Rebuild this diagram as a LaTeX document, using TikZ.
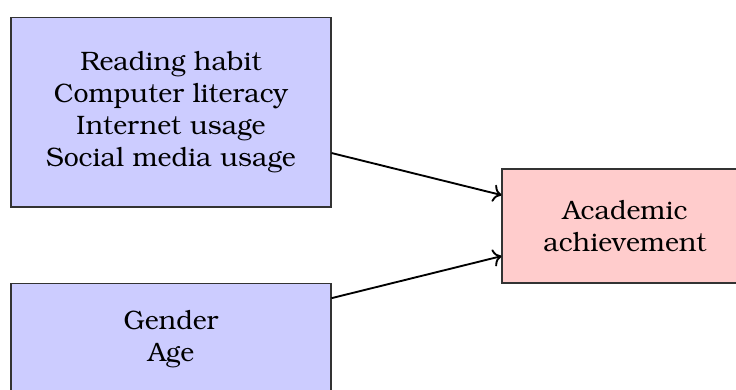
\documentclass[tikz,border=0pt]{standalone}
\usepackage[T1]{fontenc}
\usepackage{bookman}
\usepackage{tikz}
\usetikzlibrary{arrows.meta, positioning, calc}
\tikzset{
    varBox/.style={rectangle, draw=black!80, fill=blue!20, align=center, inner sep=0pt, minimum width=120pt},
    outBox/.style={rectangle, draw=black!80, fill=red!20, align=center, inner sep=0pt},
    effLine/.style={->, line width=0.7pt}
}

\begin{document}
\begin{tikzpicture}[x=0.375pt, y=-0.375pt]

        % --- Frame ---
        \useasboundingbox (0,0) rectangle (736,390);

        % --- Boxes ---
        \node[varBox, minimum height=70.9pt] (habits) at (171,112.5)
            {Reading habit\\Computer literacy\\Internet usage\\Social media usage};
        \node[varBox, minimum height=42pt] (demog) at (171,339.5) {Gender\\Age};
        \node[outBox, minimum width=92.25pt, minimum height=42.75pt] (acad) at (625,226)
            {Academic\\achievement};

        % --- Effects ---
        \draw[effLine] ([yshift=-15.2pt]habits.east) -- ([yshift=11.6pt]acad.west);
        \draw[effLine] ([yshift=15.5pt]demog.east) -- ([yshift=-11.3pt]acad.west);

\end{tikzpicture}
\end{document}
